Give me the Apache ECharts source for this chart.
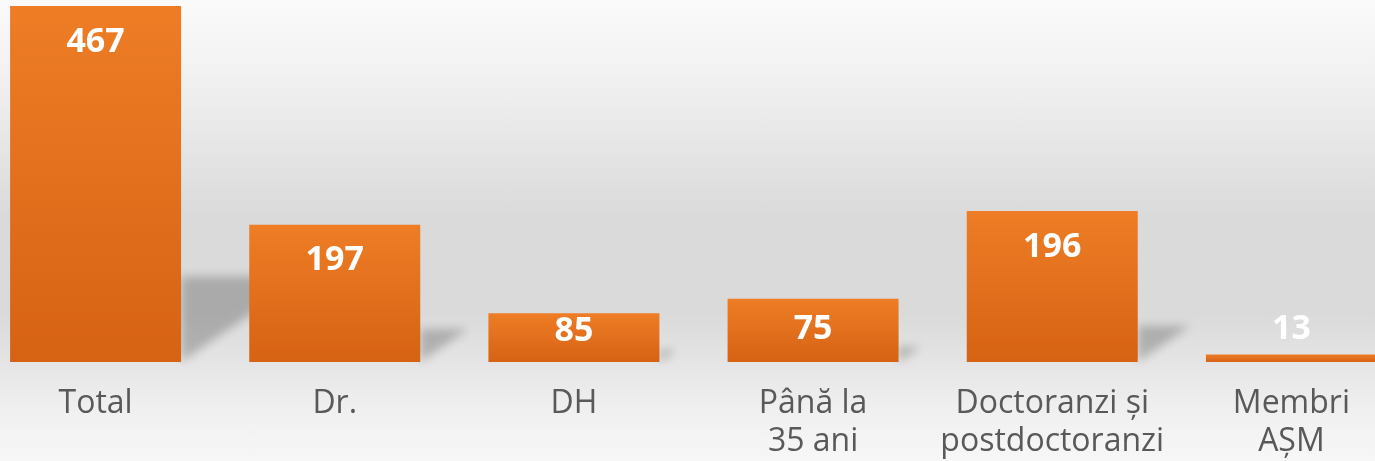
<!DOCTYPE html>
<html>
<head>
<meta charset="utf-8">
<script src="https://cdn.jsdelivr.net/npm/echarts@6/dist/echarts.min.js"></script>
<style>
  html, body { margin: 0; padding: 0; overflow: hidden; }
  body {
    width: 1375px;
    height: 461px;
    position: relative;
    background: linear-gradient(to bottom, #fafafa 0%, #f2f2f2 15%, #e3e3e3 35%, #dadada 47%, #dadada 68%, #e4e4e4 78%, #efefef 88%, #f7f7f7 100%);
  }
  /* plot area is wider than the window: the last column is cut at the right edge */
  #chart {
    position: absolute;
    left: -24px;
    top: 0;
    width: 1435px;
    height: 461px;
  }
</style>
</head>
<body>
<div id="chart"></div>
<script>
// categories on the x axis
const categories = ["Total", "Dr.", "DH", "Până la\n35 ani", "Doctoranzi și\npostdoctoranzi", "Membri\nAȘM"];
// bar lengths as drawn in the picture (scaled so that Total = 467)
const barValues = [467, 180, 64, 83, 198, 10];
// numbers printed on the bars
const labelValues = [467, 197, 85, 75, 196, 13];

const chart = echarts.init(document.getElementById("chart"));

const barData = barValues.map((v, i) => {
  const item = { value: v };
  if (i === 2) item.label = { distance: 1 };
  if (i === 3) item.label = { distance: 14 };
  if (i === 5) item.label = { position: "top", distance: 8 };
  return item;
});

chart.setOption({
  backgroundColor: "transparent",
  animation: false,
  grid: {
    left: 0,
    right: 0,
    top: 6,
    bottom: 99,
    containLabel: false,
  },
  xAxis: {
    type: "category",
    data: categories,
    axisLine: { show: false },
    axisTick: { show: false },
    axisLabel: {
      interval: 0,
      margin: 23,
      color: "#595959",
      fontFamily: "Open Sans",
      fontSize: 32,
      lineHeight: 38,
    },
  },
  yAxis: {
    type: "value",
    min: 0,
    max: 467,
    show: false,
    splitLine: { show: false },
  },
  series: [
    {
      // perspective shadow cast to the right of every bar;
      // the shape sits far off to the left and only its blurred shadow is seen
      type: "custom",
      z: 1,
      silent: true,
      clip: false,
      data: barValues.map((v, i) => [i, v]),
      renderItem(params, api) {
        const base = api.coord([api.value(0), 0]);
        const top = api.coord([api.value(0), api.value(1)]);
        const h = base[1] - top[1];
        const bw = api.size([1, 0])[0] * 0.715;
        const xr = base[0] + bw / 2;
        const sh = h * 0.24;
        const off = 3000;
        return {
          type: "polygon",
          shape: {
            points: [
              [xr - off, base[1]],
              [xr - off, base[1] - sh],
              [xr + sh / 0.69 - off, base[1] - sh],
            ],
          },
          style: {
            fill: "#000",
            shadowBlur: 10,
            shadowOffsetX: off,
            shadowColor: "rgba(0,0,0,0.22)",
          },
        };
      },
    },
    {
      type: "bar",
      z: 2,
      data: barData,
      barWidth: 171,
      itemStyle: {
        color: new echarts.graphic.LinearGradient(0, 0, 0, 1, [
          { offset: 0, color: "#ee7d26" },
          { offset: 1, color: "#d66213" },
        ]),
      },
      label: {
        show: true,
        position: "insideTop",
        distance: 19,
        color: "#ffffff",
        fontFamily: "Open Sans",
        fontWeight: "bold",
        fontSize: 34,
        formatter: (p) => labelValues[p.dataIndex],
      },
    },
  ],
});
</script>
</body>
</html>
